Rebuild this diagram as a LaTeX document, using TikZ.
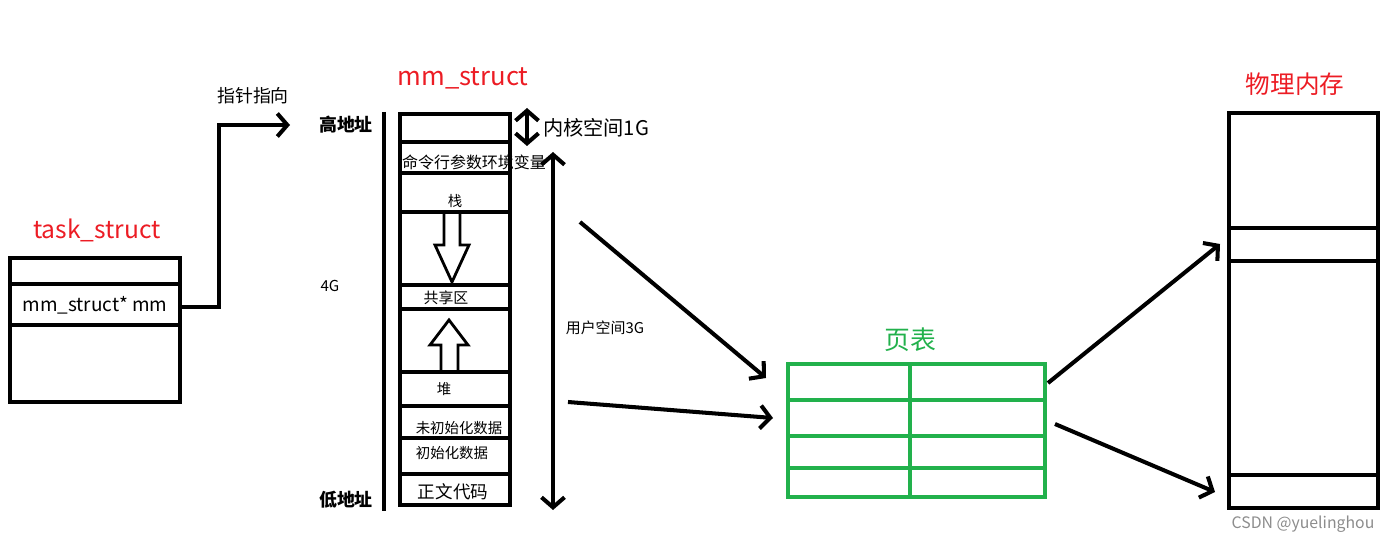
\documentclass[tikz,border=0pt]{standalone}
\usepackage{fontspec}
\setmainfont{Noto Sans CJK SC}
\usepackage{tikz}
\usetikzlibrary{arrows.meta}
\definecolor{pred}{RGB}{236,28,36}
\definecolor{pgreen}{RGB}{34,177,76}
\newcommand{\fsz}[1]{\fontsize{#1}{#1}\selectfont}
\tikzset{
  box/.style={draw=black, line width=2.4pt},
  tbl/.style={draw=pgreen, line width=2.2pt},
  hollow/.style={draw=black, line width=1.6pt, line join=miter},
  e/.style={line width=2.3pt, -{Straight Barb[length=2mm, width=4.6mm]}},
  ee/.style={line width=2.3pt,
             {Straight Barb[length=2mm, width=4.6mm]}-{Straight Barb[length=2mm, width=4.6mm]}},
  title/.style={inner sep=0pt, text=pred, font=\fsz{14pt}},
  cell/.style={inner sep=0pt, font=\fsz{8.2pt}},
}

\begin{document}
\begin{tikzpicture}[x=0.02cm, y=-0.02cm]
  \useasboundingbox (0,0) rectangle (1400,544);
  \node[title] (tstitle) at (97,230) {task\_struct};
  \draw[box] (10,258) rectangle (180,402);
  \draw[box] (10,284) -- (180,284);
  \draw[box] (10,325) -- (180,325);
  \node[cell, font=\fsz{10.8pt}] (tsmm) at (95,305) {mm\_struct* mm};
  \coordinate (tsout) at (180,307);
  \coordinate (bend) at (219,307);
  \coordinate (ptrend) at (290,125);
  \draw[e] (tsout) -- (bend) |- (ptrend);
  \node[cell, font=\fsz{10.2pt}] (ptrlbl) at (253,96) {指针指向};

  \node[title, font=\fsz{14.6pt}] (mmtitle) at (463,78) {mm\_struct};
  \draw[line width=2.4pt] (384,112) -- (384,511);
  \node[cell, font=\bfseries\fsz{10.2pt}] (high) at (346,125) {高地址};
  \node[cell, font=\bfseries\fsz{10.2pt}] (low) at (346,500) {低地址};
  \node[cell, font=\fsz{8.6pt}] (fourg) at (330,286) {4G};
  \draw[box] (400,114) rectangle (510,505);
  \foreach \y in {142,173,212,285,309,372,406,438,474}
    \draw[box] (400,\y) -- (510,\y);
  \node[cell, font=\fsz{9.1pt}] (args) at (474,162) {命令行参数环境变量};
  \node[cell] (stack) at (455,201) {栈};
  \node[cell, font=\fsz{8.5pt}] (shared) at (446,298) {共享区};
  \node[cell] (heap) at (444,389) {堆};
  \node[cell] (bss) at (459,428) {未初始化数据};
  \node[cell] (data) at (452,453) {初始化数据};
  \node[cell, font=\fsz{10pt}] (text) at (453,492) {正文代码};
  \draw[hollow] (444,212) -- (444,245) -- (435,245) -- (452,282) -- (469,245) -- (460,245) -- (460,212);
  \draw[hollow] (441,372) -- (441,345) -- (430,345) -- (449,320) -- (468,345) -- (458,345) -- (458,372);

  \coordinate (ktop) at (527,108);
  \coordinate (kbot) at (527,146);
  \draw[ee] (ktop) -- (kbot);
  \node[cell, font=\fsz{11.5pt}] (klbl) at (596,128) {内核空间1G};
  \coordinate (utop) at (553,152);
  \coordinate (ubot) at (553,510);
  \draw[ee] (utop) -- (ubot);
  \node[cell, font=\fsz{8.5pt}] (ulbl) at (605,328) {用户空间3G};

  \coordinate (a1s) at (580,222);
  \coordinate (a1e) at (766,378);
  \coordinate (a2s) at (568,402);
  \coordinate (a2e) at (773,418);
  \draw[e] (a1s) -- (a1e);
  \draw[e] (a2s) -- (a2e);

  \node[title, text=pgreen, font=\fsz{14.7pt}] (pttitle) at (910,340) {页表};
  \draw[tbl] (788,364) rectangle (1045,497);
  \foreach \y in {400,436,468}
    \draw[tbl] (788,\y) -- (1045,\y);
  \draw[tbl] (910,364) -- (910,497);

  \coordinate (b1s) at (1048,383);
  \coordinate (b1e) at (1220,244);
  \coordinate (b2s) at (1055,424);
  \coordinate (b2e) at (1215,492);
  \draw[e] (b1s) -- (b1e);
  \draw[e] (b2s) -- (b2e);

  \node[title] (pmtitle) at (1295,84) {物理内存};
  \draw[box] (1229,113) rectangle (1378,508);
  \foreach \y in {228,261,475}
    \draw[box] (1229,\y) -- (1378,\y);

  \node[cell, text=black!45, font=\fsz{9pt}] (mark) at (1303,524) {CSDN @yuelinghou};
\end{tikzpicture}
\end{document}
